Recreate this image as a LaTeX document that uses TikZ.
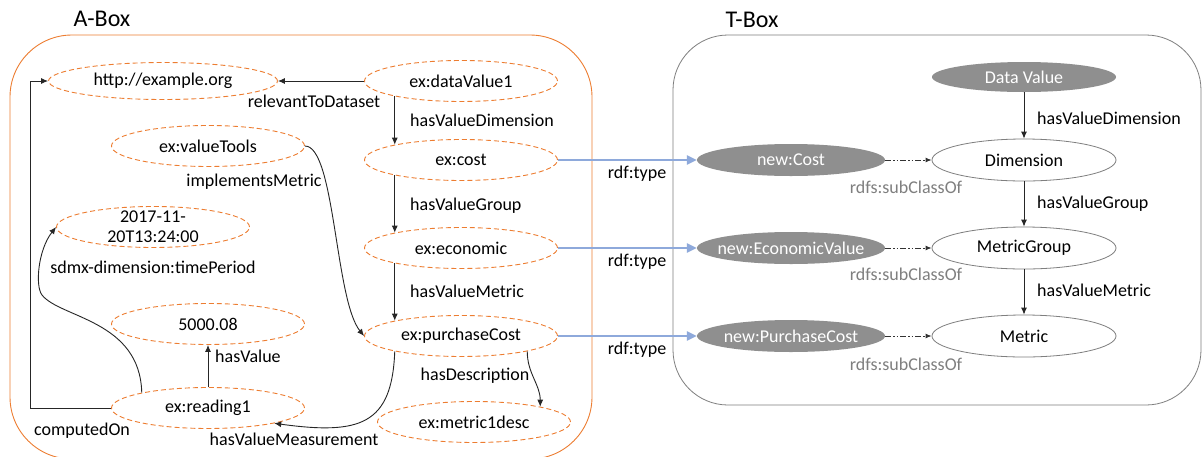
\documentclass[tikz,border=0pt]{standalone}
\usepackage{fontspec}
\setmainfont{Carlito}
\usetikzlibrary{arrows.meta,shapes.geometric}

\definecolor{aboxline}{HTML}{ED7D31}
\definecolor{tboxline}{HTML}{7F7F7F}
\definecolor{classfill}{HTML}{8F8F8F}
\definecolor{typeline}{HTML}{8EA9DB}

\begin{document}
\begin{tikzpicture}[
		x=1pt, y=-1pt,
		font=\fontsize{18}{20}\selectfont,
		ell/.style={ellipse, inner xsep=-30pt, inner ysep=0pt},
		inst/.style={ell, draw=aboxline, line width=0.9pt, dash pattern=on 5pt off 3pt,
				minimum width=193pt, minimum height=41pt},
		cls/.style={ell, fill=classfill, text=white, minimum width=188pt, minimum height=32pt},
		concept/.style={ell, draw=tboxline, line width=0.8pt, minimum width=184pt, minimum height=42pt},
		rel/.style={draw=black!85, line width=0.9pt, -{Latex[length=7pt,width=6pt]}},
		typeof/.style={draw=typeline, line width=2.5pt, -{Triangle[length=10pt,width=9pt]}},
		subcls/.style={draw=black!80, line width=0.9pt, -{Latex[length=6pt,width=5pt]},
				dash pattern=on 6pt off 2pt on 1.5pt off 2pt on 1.5pt off 2pt},
		lbl/.style={inner sep=1pt, text height=12pt, text depth=3pt},
		sublbl/.style={lbl, text=tboxline},
		title/.style={font=\fontsize{24}{28}\selectfont}
	]
	\path[fill=white, use as bounding box] (0,0) rectangle (1203,456);

	% the two boxes
	\draw[aboxline, line width=0.9pt, rounded corners=62pt] (10,35) rectangle (592,459);
	\draw[tboxline, line width=0.8pt, rounded corners=55pt] (673,35) rectangle (1201,405);
	\node[title] (atitle) at (102,19) {A-Box};
	\node[title] (ttitle) at (752,20) {T-Box};

	% A-Box instances
	\node[inst, minimum width=229pt, minimum height=37pt] (site) at (163,81) {http://example.org};
	\node[inst] (dv) at (461,81) {ex:dataValue1};
	\node[inst] (cost) at (461,160) {ex:cost};
	\node[inst] (econ) at (461,248) {ex:economic};
	\node[inst] (pcost) at (461,336) {ex:purchaseCost};
	\node[inst] (desc) at (474,422) {ex:metric1desc};
	\node[inst] (tools) at (208,146) {ex:valueTools};
	\node[inst, label={[align=center]center:{2017-11-\\20T13:24:00}}] (time) at (153,227) {};
	\node[inst] (val) at (208,324) {5000.08};
	\node[inst] (reading) at (208,408) {ex:reading1};

	% T-Box classes
	\node[cls, minimum width=184pt, minimum height=30pt] (dvc) at (1024,77) {Data Value};
	\node[cls] (ncost) at (791,160) {new:Cost};
	\node[cls] (necon) at (791,248) {new:EconomicValue};
	\node[cls] (npc) at (791,336) {new:PurchaseCost};
	\node[concept] (dim) at (1024,160) {Dimension};
	\node[concept] (mg) at (1024,248) {MetricGroup};
	\node[concept] (met) at (1024,336) {Metric};

	% A-Box relations
	\draw[rel] (dv.west) -- (site.east);
	\draw[rel] (dv.193) -- (cost.167);
	\draw[rel] (cost.193) -- (econ.167);
	\draw[rel] (econ.193) -- (pcost.167);
	\draw[rel] (tools.east) .. controls (335,146) and (335,300) .. (pcost.west);
	\draw[rel] (reading.167) .. controls (140,320) and (60,318) .. (42,295)
		.. controls (35,286) and (38,250) .. (time.west);
	\draw[rel] (reading.north) -- (val.south);
	\draw[rel] (reading.west) -- ++(-80.5,0) |- (site.west);
	\draw[rel] (pcost.193) .. controls (392,425) and (360,435) .. (reading.347);
	\draw[rel] (pcost.347) to[out=-90, in=90] (desc.13);

	\node[lbl] (l-rel) at (314,103) {relevantToDataset};
	\node[lbl, anchor=west] (l-dim) at (409,122) {hasValueDimension};
	\node[lbl, anchor=west] (l-grp) at (409,206) {hasValueGroup};
	\node[lbl, anchor=west] (l-met) at (409,293) {hasValueMetric};
	\node[lbl] (l-impl) at (254,182) {implementsMetric};
	\node[lbl] (l-time) at (153,269) {sdmx-dimension:timePeriod};
	\node[lbl, anchor=west] (l-val) at (214,358) {hasValue};
	\node[lbl] (l-comp) at (82,431) {computedOn};
	\node[lbl] (l-meas) at (294,441) {hasValueMeasurement};
	\node[lbl] (l-desc) at (475,376) {hasDescription};

	% instance to class
	\draw[typeof] (cost.east) -- (ncost.west);
	\draw[typeof] (econ.east) -- (necon.west);
	\draw[typeof] (pcost.east) -- (npc.west);
	\node[lbl] (l-t1) at (637,174) {rdf:type};
	\node[lbl] (l-t2) at (637,262) {rdf:type};
	\node[lbl] (l-t3) at (637,350) {rdf:type};

	% T-Box relations
	\draw[subcls] (ncost.east) -- (dim.west);
	\draw[subcls] (necon.east) -- (mg.west);
	\draw[subcls] (npc.east) -- (met.west);
	\node[sublbl] (l-s1) at (906,189) {rdfs:subClassOf};
	\node[sublbl] (l-s2) at (906,276) {rdfs:subClassOf};
	\node[sublbl] (l-s3) at (906,366) {rdfs:subClassOf};

	\draw[rel] (dvc.south) -- (dim.north);
	\draw[rel] (dim.south) -- (mg.north);
	\draw[rel] (mg.south) -- (met.north);
	\node[lbl, anchor=west] (l-tdim) at (1036,120) {hasValueDimension};
	\node[lbl, anchor=west] (l-tgrp) at (1036,204) {hasValueGroup};
	\node[lbl, anchor=west] (l-tmet) at (1036,292) {hasValueMetric};
\end{tikzpicture}
\end{document}
